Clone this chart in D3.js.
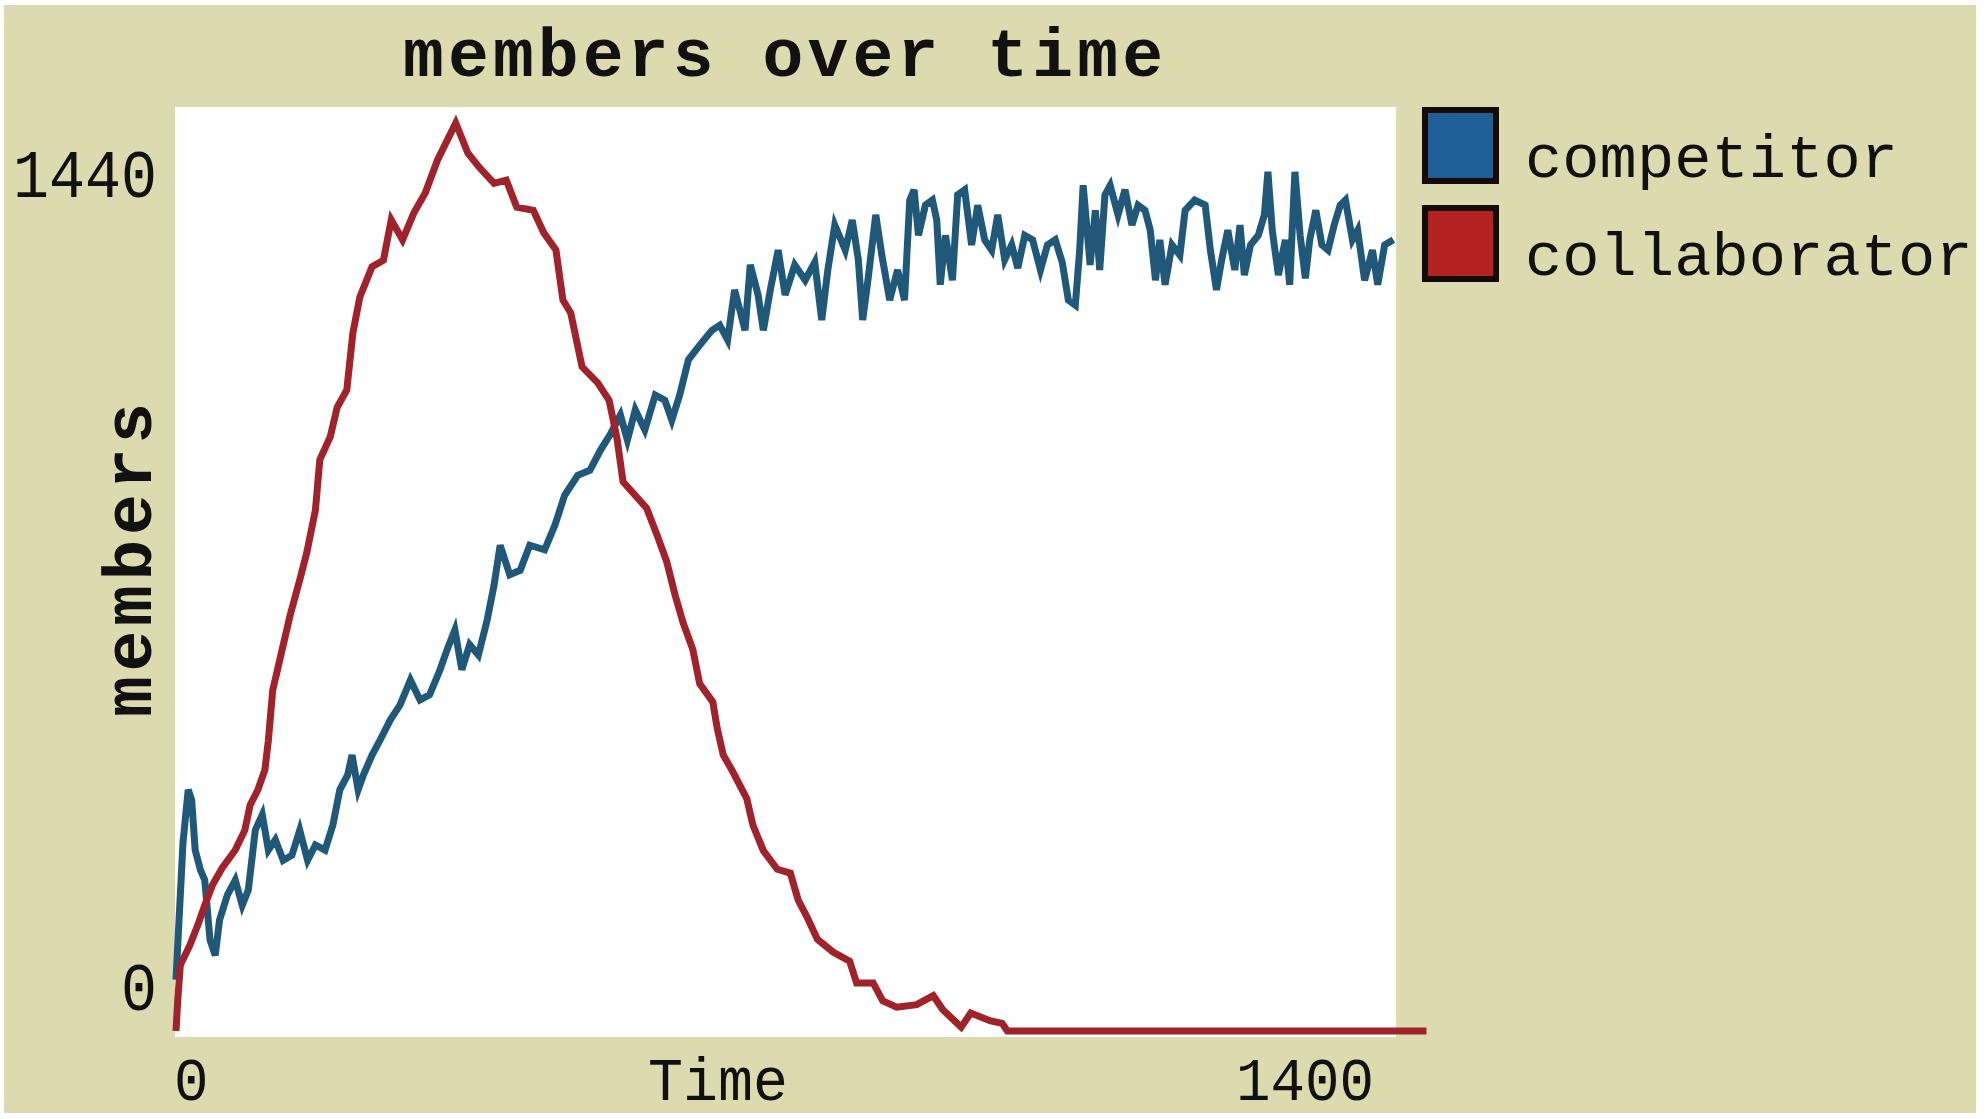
<!DOCTYPE html>
<html><head><meta charset="utf-8">
<script src="https://cdn.jsdelivr.net/npm/d3@7"></script>
<style>html,body{margin:0;padding:0;background:#fff;overflow:hidden}</style>
</head><body>
<svg id="c" width="1985" height="1119"></svg>
<script>
// ---- data (time, members) ----
const chartTitle = "members over time";
const xLabel = "Time";
const yLabel = "members";
const xTicks = [0, 1400];
const yTicks = [0, 1440];
const seriesNames = ["competitor", "collaborator"];

const competitor = [[0,80],[8,293],[14,376],[18,360],[22,282],[28,251],[33,235],[39,142],[45,118],[50,173],[59,212],[68,235],[76,196],[83,220],[91,313],[99,337],[106,282],[114,298],[123,266],[133,274],[142,313],[151,266],[160,290],[171,282],[180,321],[188,376],[197,399],[202,430],[209,376],[215,399],[225,430],[234,453],[246,485],[257,508],[269,547],[280,516],[291,524],[303,563],[311,594],[320,625],[328,563],[337,602],[347,586],[357,640],[365,695],[372,757],[383,711],[395,718],[406,757],[423,750],[435,789],[446,835],[461,866],[475,874],[487,905],[498,929],[510,960],[518,921],[527,968],[538,937],[550,991],[561,983],[569,952],[578,991],[588,1046],[601,1069],[615,1092],[624,1100],[633,1077],[641,1155],[647,1124],[653,1092],[659,1194],[668,1147],[674,1092],[682,1155],[691,1217],[699,1147],[710,1194],[722,1170],[733,1198],[741,1108],[748,1186],[756,1256],[768,1217],[776,1264],[783,1202],[788,1108],[794,1170],[803,1272],[810,1209],[819,1139],[828,1186],[836,1139],[842,1295],[847,1311],[852,1240],[860,1287],[868,1295],[873,1264],[877,1163],[883,1240],[891,1170],[897,1303],[905,1311],[913,1225],[920,1287],[928,1233],[936,1217],[943,1272],[951,1202],[959,1225],[966,1189],[974,1240],[983,1233],[992,1186],[1000,1225],[1009,1233],[1017,1198],[1024,1139],[1032,1131],[1037,1217],[1041,1318],[1049,1194],[1055,1279],[1060,1186],[1066,1303],[1072,1318],[1081,1272],[1089,1311],[1097,1256],[1104,1287],[1112,1279],[1118,1248],[1124,1170],[1129,1233],[1135,1163],[1143,1225],[1152,1209],[1158,1279],[1169,1295],[1181,1287],[1187,1217],[1194,1155],[1200,1202],[1207,1248],[1215,1186],[1221,1256],[1226,1178],[1233,1225],[1242,1240],[1249,1272],[1253,1339],[1258,1248],[1265,1178],[1273,1233],[1278,1163],[1284,1339],[1290,1240],[1296,1173],[1301,1233],[1308,1279],[1315,1225],[1322,1217],[1329,1256],[1336,1287],[1342,1295],[1350,1233],[1356,1248],[1364,1170],[1373,1217],[1379,1163],[1387,1225],[1397,1233]];

const collaborator = [[0,0],[2,48],[5,103],[16,134],[25,165],[33,196],[42,228],[53,254],[68,282],[79,313],[85,352],[94,376],[102,407],[106,453],[111,531],[119,578],[131,648],[142,703],[150,745],[160,812],[165,890],[177,926],[185,972],[196,999],[203,1088],[211,1144],[225,1191],[238,1201],[247,1264],[260,1233],[273,1275],[286,1306],[300,1357],[317,1404],[321,1415],[335,1368],[348,1346],[365,1321],[379,1326],[391,1284],[410,1279],[422,1244],[436,1217],[444,1139],[453,1119],[466,1035],[484,1010],[497,983],[506,924],[513,856],[540,815],[552,773],[563,732],[573,678],[582,636],[593,595],[601,541],[616,513],[621,472],[628,430],[639,404],[655,362],[662,321],[674,281],[690,252],[705,246],[714,204],[724,178],[736,143],[754,123],[773,109],[781,75],[800,75],[811,47],[827,37],[850,41],[869,55],[880,33],[901,6],[912,28],[934,16],[948,12],[954,0],[1435,0]];

// ---- drawing ----
const svg = d3.select("#c");
const BG = "#dcdbb0";
const lineColors = ["#1f5878", "#a0222a"];
const boxColors = ["#1f5f98", "#b3221f"];
const FONT = "'Liberation Mono', 'DejaVu Sans Mono', monospace";

svg.append("rect").attr("x", 4).attr("y", 5).attr("width", 1972).attr("height", 1108).attr("fill", BG);

const x = d3.scaleLinear().domain([0, 1400]).range([176, 1396]);
const y = d3.scaleLinear().domain([0, 1440]).range([1031, 107]);

// plot area
svg.append("rect")
  .attr("x", x(0) - 1).attr("y", y(1440))
  .attr("width", x(1400) - x(0) + 1).attr("height", y(0) - y(1440) + 6)
  .attr("fill", "#ffffff");

const line = d3.line().x(d => x(d[0])).y(d => y(d[1]));
[competitor, collaborator].forEach((s, i) => {
  svg.append("path").datum(s)
    .attr("d", line)
    .attr("fill", "none")
    .attr("stroke", lineColors[i])
    .attr("stroke-width", 7)
    .attr("stroke-linejoin", "miter");
});

// title
svg.append("text").text(chartTitle)
  .attr("x", 403).attr("y", 76)
  .attr("font-family", FONT).attr("font-weight", "bold").attr("font-size", 68)
  .attr("textLength", 760).attr("lengthAdjust", "spacing")
  .attr("fill", "#111");

// y label
svg.append("text").text(yLabel)
  .attr("transform", "translate(151,560) rotate(-90)")
  .attr("text-anchor", "middle")
  .attr("font-family", FONT).attr("font-weight", "bold").attr("font-size", 68)
  .attr("textLength", 314).attr("lengthAdjust", "spacing")
  .attr("fill", "#111");

// y tick labels (min at bottom, max at top)
yTicks.forEach(v => {
  const isMax = v === yTicks[yTicks.length - 1];
  const label = String(v);
  svg.append("text").text(label)
    .attr("x", 157)
    .attr("y", isMax ? y(v) + 90 : y(v) - 21)
    .attr("text-anchor", "end")
    .attr("font-family", FONT).attr("font-size", 68)
    .attr("textLength", label.length * 36).attr("lengthAdjust", "spacingAndGlyphs")
    .attr("fill", "#111");
});

// x tick labels
xTicks.forEach((v, i) => {
  const label = String(v);
  const isMax = i === xTicks.length - 1;
  svg.append("text").text(label)
    .attr("x", isMax ? x(v) - 22 : x(v) - 2)
    .attr("y", 1100)
    .attr("text-anchor", isMax ? "end" : "start")
    .attr("font-family", FONT).attr("font-size", 62)
    .attr("textLength", label.length * 34.5).attr("lengthAdjust", "spacingAndGlyphs")
    .attr("fill", "#111");
});

// x label
svg.append("text").text(xLabel)
  .attr("x", 648).attr("y", 1100)
  .attr("font-family", FONT).attr("font-size", 62)
  .attr("textLength", 140).attr("lengthAdjust", "spacingAndGlyphs")
  .attr("fill", "#111");

// legend
seriesNames.forEach((name, i) => {
  const top = 107 + i * 98;
  svg.append("rect")
    .attr("x", 1425).attr("y", top + 3)
    .attr("width", 71).attr("height", 71)
    .attr("fill", boxColors[i]).attr("stroke", "#150a0a").attr("stroke-width", 6);
  svg.append("text").text(name)
    .attr("x", 1525).attr("y", top + 70)
    .attr("font-family", FONT).attr("font-size", 62)
    .attr("textLength", name.length * 37.3).attr("lengthAdjust", "spacing")
    .attr("fill", "#111");
});
</script>
</body></html>
